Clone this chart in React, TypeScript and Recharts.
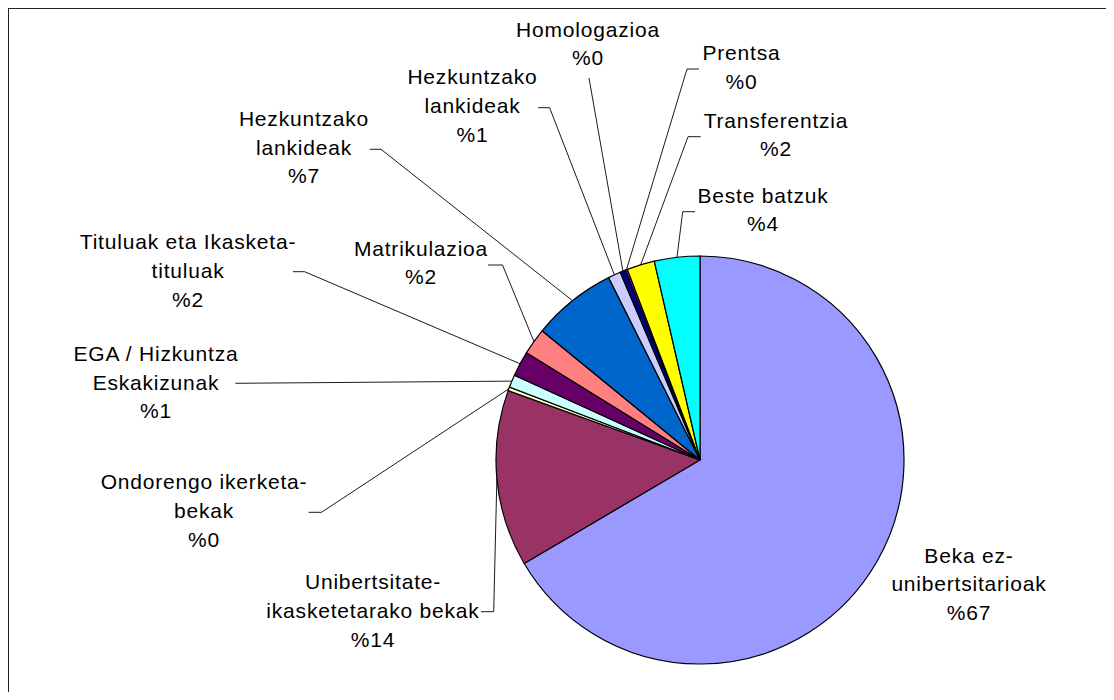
import { PieChart, Pie, Cell } from 'recharts'

const categories = [
  'Beka ez-unibertsitarioak',
  'Unibertsitate-ikasketetarako bekak',
  'Ondorengo ikerketa-bekak',
  'EGA / Hizkuntza Eskakizunak',
  'Tituluak eta Ikasketa-tituluak',
  'Matrikulazioa',
  'Hezkuntzako lankideak',
  'Hezkuntzako lankideak',
  'Homologazioa',
  'Prentsa',
  'Transferentzia',
  'Beste batzuk',
]

// percentage of the total
const shares = [66.6, 14.0, 0.3, 1.0, 2.0, 2.1, 6.7, 1.0, 0.45, 0.15, 2.2, 3.6]

// how each category name is broken over lines in the label
const labelLines = [
  ['Beka ez-', 'unibertsitarioak'],
  ['Unibertsitate-', 'ikasketetarako bekak'],
  ['Ondorengo ikerketa-', 'bekak'],
  ['EGA / Hizkuntza', 'Eskakizunak'],
  ['Tituluak eta Ikasketa-', 'tituluak'],
  ['Matrikulazioa'],
  ['Hezkuntzako', 'lankideak'],
  ['Hezkuntzako', 'lankideak'],
  ['Homologazioa'],
  ['Prentsa'],
  ['Transferentzia'],
  ['Beste batzuk'],
]

const sliceColors = [
  '#9999FF', '#993366', '#FFFFCC', '#CCFFFF', '#660066', '#FF8080',
  '#0066CC', '#CCCCFF', '#000080', '#FF00FF', '#FFFF00', '#00FFFF',
]

const data = categories.map((name, i) => ({ name, value: shares[i] }))

// label placement relative to the pie centre:
// tx/ty = text centre / first line, leader = [x start, x end, y] of the elbow
const labelLayout: { tx: number; ty: number; leader: number[] | null }[] = [
  { tx: 269, ty: 95, leader: null },
  { tx: -327, ty: 121.7, leader: [-219, -206.3, 151.7] },
  { tx: -496, ty: 21.7, leader: [-391.3, -378.5, 52.3] },
  { tx: -544, ty: -106.7, leader: [-464.6, -464.6, -76.7] },
  { tx: -512, ty: -218.3, leader: [-407, -395.4, -188.3] },
  { tx: -279, ty: -212, leader: [-212, -197.5, -195] },
  { tx: -396, ty: -341.7, leader: [-330.3, -319, -310.7] },
  { tx: -227.5, ty: -383.3, leader: [-162, -150.4, -352.3] },
  { tx: -112, ty: -431, leader: [-111, -111, -382] },
  { tx: 41.5, ty: -407.3, leader: [-1, -13, -391] },
  { tx: 76, ty: -340, leader: [0.7, -12, -323.3] },
  { tx: 63, ty: -265, leader: [-5, -17.3, -248.3] },
]

const LINE_GAP = 28.8

const renderLabel = (props: any) => {
  const { cx, cy, midAngle, outerRadius, index, percent } = props
  const lay = labelLayout[index]
  const rad = (-midAngle * Math.PI) / 180
  const ex = cx + outerRadius * Math.cos(rad)
  const ey = cy + outerRadius * Math.sin(rad)
  const lines = [...labelLines[index], `%${Math.round(percent * 100)}`]
  return (
    <g key={`label-${index}`}>
      {lay.leader && (
        <polyline
          points={`${cx + lay.leader[0]},${cy + lay.leader[2]} ${cx + lay.leader[1]},${cy + lay.leader[2]} ${ex},${ey}`}
          fill="none"
          stroke="#000"
          strokeWidth={0.9}
        />
      )}
      <text
        textAnchor="middle"
        fill="#000"
        fontSize={21}
        letterSpacing={0.8}
        fontFamily="'Liberation Sans', Arial, sans-serif"
      >
        {lines.map((line, i) => (
          <tspan key={i} x={cx + lay.tx} y={cy + lay.ty + i * LINE_GAP + 7.5}>
            {line}
          </tspan>
        ))}
      </text>
    </g>
  )
}

export default function App() {
  return (
    <div style={{ position: 'relative', width: 1098, height: 684, background: '#fff' }}>
      <div
        style={{
          position: 'absolute',
          left: 0,
          top: 0,
          width: 1098,
          height: 684,
          borderTop: '1px solid #222',
          borderLeft: '1px solid #222',
          boxSizing: 'border-box',
        }}
      />
      <div style={{ position: 'absolute', left: 0, top: 0 }}>
        <PieChart width={1098} height={684} margin={{ top: 0, right: 0, bottom: 0, left: 0 }}>
          <Pie
            data={data}
            dataKey="value"
            nameKey="name"
            cx={692}
            cy={452}
            outerRadius={204}
            startAngle={90}
            endAngle={-270}
            stroke="#000"
            strokeWidth={1.2}
            label={renderLabel}
            labelLine={false}
            isAnimationActive={false}
          >
            {data.map((d, i) => (
              <Cell key={d.name + i} fill={sliceColors[i]} />
            ))}
          </Pie>
        </PieChart>
      </div>
    </div>
  )
}
